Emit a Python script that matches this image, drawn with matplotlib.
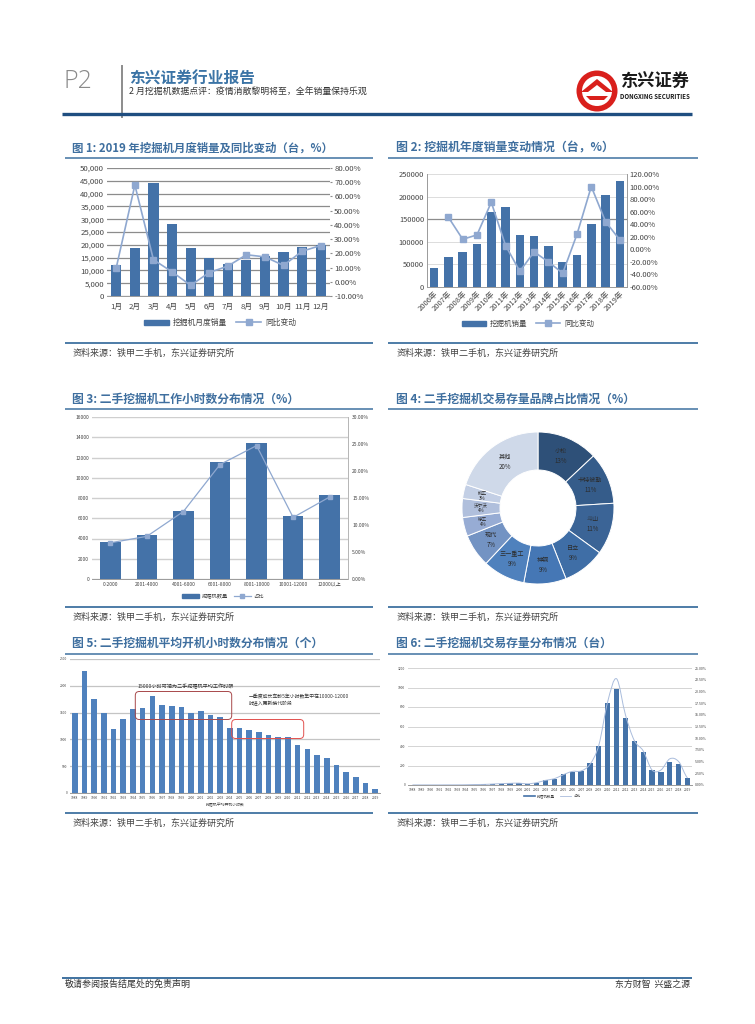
import matplotlib
matplotlib.use("Agg")
import matplotlib.pyplot as plt
from matplotlib.patches import FancyBboxPatch, PathPatch, Circle, Polygon
from matplotlib.path import Path
from matplotlib.lines import Line2D
from matplotlib.ticker import FuncFormatter, MultipleLocator
import numpy as np

plt.rcParams['font.family'] = ['Noto Sans CJK SC', 'DejaVu Sans']
plt.rcParams['axes.unicode_minus'] = False

W, H = 755, 1024

# ---------- data ----------
months = ['1月','2月','3月','4月','5月','6月','7月','8月','9月','10月','11月','12月']
monthly_sales = [12000,18700,44000,28000,18700,15000,12500,14000,15800,17000,19300,20000]
monthly_yoy = [10,68,15.5,7,-2.5,6.5,11,19,17.5,11.5,21.5,25.5]

years = ['2006年','2007年','2008年','2009年','2010年','2011年','2012年','2013年','2014年','2015年','2016年','2017年','2018年','2019年']
annual_sales = [43000,67000,77000,96000,166000,178000,115000,112000,90000,56000,70000,139000,203000,235000]
annual_yoy = [np.nan,51,16,23,75,6,-35,-4,-20,-38,24,100,44,15]

hour_bins = ['0-2000','2001-4000','4001-6000','6001-8000','8001-10000','10001-12000','12000以上']
hour_counts = [3660,4320,6760,11550,13400,6200,8300]
hour_share = [6.7,7.9,12.5,21.2,24.7,11.4,15.2]

brands = ['小松','卡特彼勒','斗山','日立','神钢','三一重工','现代','徐工','沃尔沃','柳工','其他']
brand_share = [13,11,11,9,9,9,7,4,4,3,20]
brand_colors = ['#2e5078','#355c8a','#3b6496','#3f6ea6','#4577b5','#4f81bd','#7393c3','#97acd4','#b0bfdc','#c3cfe5','#cfd9e9']

open_labels = [str(y) for y in range(1988, 2020)]
open_hours = [1494,2269,1756,1494,1188,1381,1563,1588,1813,1650,1619,1600,1494,1525,1456,1413,
              1213,1213,1181,1131,1081,1044,1044,894,813,713,644,525,400,300,181,81]

stock_labels = [str(y) for y in range(1988, 2020)]
stock_counts = [1,1,1,1,1,2,3,5,7,10,14,17,17,10,24,51,65,109,136,143,221,395,838,988,
                685,450,341,150,136,232,215,68]
stock_share = [0.02,0.02,0.02,0.02,0.03,0.03,0.05,0.1,0.12,0.2,0.3,0.35,0.4,0.25,0.5,1.0,
               1.35,2.2,2.9,3.0,4.4,8.5,17.8,22.7,15,9.5,7.3,3.2,3.2,5.6,5,1.5]

DARK = '#1f4e80'
BLUE = '#3f72a0'
BAR = '#4472a8'
LINE = '#8fa8d0'
GRID = '#8c8c8c'
TXT = '#444444'

fig = plt.figure(figsize=(W/100, H/100), dpi=100, facecolor='white')
bg = fig.add_axes([0, 0, 1, 1], zorder=0)
bg.set_xlim(0, W); bg.set_ylim(H, 0); bg.axis('off')


def box(l, t, r, b):
    return fig.add_axes([l/W, 1-b/H, (r-l)/W, (b-t)/H], zorder=2)


def hline(y, x0, x1, color=BLUE, lw=1.0):
    bg.plot([x0, x1], [y, y], color=color, lw=lw, solid_capstyle='butt')


# ---------- page furniture ----------
bg.text(64, 81, 'P2', fontsize=18, color='#8a8a8a', va='center', ha='left', family=['Open Sans', 'DejaVu Sans'], fontweight='light')
bg.plot([122, 122], [66, 117], color='#8c8c8c', lw=1.4)
bg.text(129, 78.5, '东兴证券行业报告', fontsize=11.3, fontweight='bold', color='#3b74a6', va='center', ha='left')
bg.text(129, 92, '2 月挖掘机数据点评：疫情消散黎明将至，全年销量保持乐观', fontsize=6.4, color='#333333', va='center', ha='left')
hline(114, 62, 692, color=DARK, lw=2.4)

# logo
bg.add_patch(Circle((597, 91), 20.5, facecolor='#d9201c', edgecolor='none'))
bg.add_patch(Circle((597, 91), 15, facecolor='white', edgecolor='none'))
bg.add_patch(Polygon([[581, 92], [597, 79], [613, 92], [606, 92], [597, 85], [588, 92]], closed=True, facecolor='#d9201c', edgecolor='none'))
bg.add_patch(Polygon([[586, 96], [608, 96], [604, 100], [590, 100]], closed=True, facecolor='#d9201c', edgecolor='none'))
bg.text(655, 82, '东兴证券', fontsize=12.4, fontweight='bold', color='#1a1a1a', va='center', ha='center')
bg.text(655, 96.5, 'DONGXING SECURITIES', fontsize=4.4, fontweight='bold', color='#1a1a1a', va='center', ha='center')

# footer
hline(977.5, 62, 692, color=BLUE, lw=1.4)
bg.text(65, 984, '敬请参阅报告结尾处的免责声明', fontsize=6.5, color='#333333', va='center', ha='left')
bg.text(690, 984, '东方财智  兴盛之源', fontsize=6.4, color='#333333', va='center', ha='right')

SOURCE = '资料来源：铁甲二手机，东兴证券研究所'
panels = [
    (72, 148, 158, 343, 353, 65, 373, 8.2, '图 1: 2019 年挖掘机月度销量及同比变动（台，%）'),
    (396, 148, 158, 343, 353, 388, 698, 8.6, '图 2: 挖掘机年度销量变动情况（台，%）'),
    (72, 399, 409, 607, 617, 65, 373, 8.5, '图 3: 二手挖掘机工作小时数分布情况（%）'),
    (396, 399, 409, 607, 617, 388, 698, 8.5, '图 4: 二手挖掘机交易存量品牌占比情况（%）'),
    (72, 643, 654, 813, 823, 65, 373, 8.5, '图 5: 二手挖掘机平均开机小时数分布情况（个）'),
    (396, 643, 654, 813, 823, 388, 698, 8.5, '图 6: 二手挖掘机交易存量分布情况（台）'),
]
for tx, ty, ul, bl, sy, x0, x1, fs, title in panels:
    bg.text(tx, ty, title, fontsize=fs, fontweight='bold', color='#3f6f9f', va='center', ha='left')
    hline(ul, x0, x1, color=BLUE, lw=1.1)
    hline(bl, x0, x1, color=BLUE, lw=1.3)
    bg.text(tx+1, sy, SOURCE, fontsize=6.5, color='#444444', va='center', ha='left')


def style(ax, fs, grid=GRID, glw=0.9, spine='#9a9a9a'):
    for s in ax.spines.values():
        s.set_visible(False)
    ax.spines['bottom'].set_visible(True)
    ax.spines['bottom'].set_color(spine)
    ax.spines['bottom'].set_linewidth(0.7)
    ax.tick_params(axis='both', length=0, labelsize=fs, labelcolor=TXT, pad=2)
    ax.grid(axis='y', color=grid, lw=glw)
    ax.set_axisbelow(True)


def legend(ax, handles, labels, cx, cy, fs, cols=2):
    return fig.legend(handles, labels, loc='center', bbox_to_anchor=(cx/W, 1-cy/H), ncol=cols, frameon=False,
                      fontsize=fs, labelcolor=TXT, handlelength=3.2, columnspacing=1.2, handletextpad=0.5, borderpad=0)


# ---------- figure 1 ----------
ax = box(107, 168, 330, 296)
x = np.arange(len(months))
ax.bar(x, monthly_sales, width=0.55, color=BAR, zorder=2)
ax.set_xlim(-0.5, 11.5); ax.set_ylim(0, 50000)
ax.yaxis.set_major_locator(MultipleLocator(5000))
ax.yaxis.set_major_formatter(FuncFormatter(lambda v, p: f'{int(v):,}'))
ax.set_xticks(x); ax.set_xticklabels(months)
style(ax, 5.6)
ax.tick_params(axis='x', pad=5)
ax2 = ax.twinx()
ax2.plot(x, monthly_yoy, color=LINE, lw=1.2, marker='s', ms=4, zorder=3)
ax2.set_ylim(-10, 80)
ax2.yaxis.set_major_locator(MultipleLocator(10))
ax2.yaxis.set_major_formatter(FuncFormatter(lambda v, p: f'{v:.2f}%'))
for s in ax2.spines.values():
    s.set_visible(False)
ax2.tick_params(axis='y', length=1.5, color='#8c8c8c', labelsize=5.6, labelcolor=TXT, pad=1.5)
legend(ax, [plt.Rectangle((0, 0), 1, 1, color=BAR), Line2D([], [], color=LINE, lw=1.2, marker='s', ms=4)],
       ['挖掘机月度销量', '同比变动'], 220, 323, 5.6)

# ---------- figure 2 ----------
ax = box(427, 174, 627, 287)
x = np.arange(len(years))
ax.bar(x, annual_sales, width=0.6, color=BAR, zorder=2)
ax.set_xlim(-0.5, 13.5); ax.set_ylim(0, 250000)
ax.yaxis.set_major_locator(MultipleLocator(50000))
ax.set_xticks(x); ax.set_xticklabels(years, rotation=45, ha='right', rotation_mode='anchor')
style(ax, 5.4, grid='#dcdcdc', glw=0.7)
ax.axhline(150000, color=GRID, lw=0.9, zorder=1)
ax.spines['left'].set_visible(True); ax.spines['left'].set_color('#9a9a9a'); ax.spines['left'].set_linewidth(0.7)
ax2 = ax.twinx()
ax2.plot(x, annual_yoy, color=LINE, lw=1.2, marker='s', ms=4, zorder=3)
ax2.set_ylim(-60, 120)
ax2.yaxis.set_major_locator(MultipleLocator(20))
ax2.yaxis.set_major_formatter(FuncFormatter(lambda v, p: f'{v:.2f}%'))
for k, s in ax2.spines.items():
    s.set_visible(k == 'right'); s.set_color('#9a9a9a'); s.set_linewidth(0.7)
ax2.tick_params(axis='y', length=0, labelsize=5.5, labelcolor=TXT, pad=2)
legend(ax, [plt.Rectangle((0, 0), 1, 1, color=BAR), Line2D([], [], color=LINE, lw=1.2, marker='s', ms=4)],
       ['挖掘机销量', '同比变动'], 528, 324, 5.4)

# ---------- figure 3 ----------
ax = box(92, 417, 348, 579)
x = np.arange(len(hour_bins))
ax.bar(x, hour_counts, width=0.56, color=BAR, zorder=2)
ax.set_xlim(-0.5, 6.5); ax.set_ylim(0, 16000)
ax.yaxis.set_major_locator(MultipleLocator(2000))
ax.set_xticks(x); ax.set_xticklabels(hour_bins)
style(ax, 3.6, grid='#cfcfcf', glw=1.0)
ax2 = ax.twinx()
ax2.plot(x, hour_share, color=LINE, lw=0.9, marker='s', ms=2.6, zorder=3)
ax2.set_ylim(0, 30)
ax2.yaxis.set_major_locator(MultipleLocator(5))
ax2.yaxis.set_major_formatter(FuncFormatter(lambda v, p: f'{v:.2f}%'))
for k, s in ax2.spines.items():
    s.set_visible(k == 'right'); s.set_color('#b5b5b5'); s.set_linewidth(0.7)
ax2.tick_params(axis='y', length=0, labelsize=3.6, labelcolor=TXT, pad=3)
legend(ax, [plt.Rectangle((0, 0), 1, 1, color=BAR), Line2D([], [], color=LINE, lw=0.9, marker='s', ms=2.4)],
       ['挖掘机数量', '占比'], 223, 596, 3.8)

# ---------- figure 4 ----------
ax = box(538-76, 508-76, 538+76, 508+76)
_, pie_texts = ax.pie(brand_share, colors=brand_colors, startangle=90, counterclock=False, radius=1.0,
                      wedgeprops=dict(width=0.5, edgecolor='white', linewidth=0.7),
                      labels=[f'{b}\n{v}%' for b, v in zip(brands, brand_share)], labeldistance=0.75,
                      textprops=dict(fontsize=4.4, color='#2c2c2c', ha='center', va='center', linespacing=1.3))
for t, v in zip(pie_texts, brand_share):
    if v <= 4:
        t.set_fontsize(3.3)
        t.set_linespacing(1.0)
ax.set_xlim(-1, 1); ax.set_ylim(-1, 1)

# ---------- figure 5 ----------
ax = box(70, 659, 380, 793)
x = np.arange(len(open_hours))
ax.bar(x, open_hours, width=0.58, color='#4f81bd', zorder=2)
ax.set_xlim(-0.5, 31.5); ax.set_ylim(0, 2500)
ax.yaxis.set_major_locator(MultipleLocator(500))
ax.set_xticks(x); ax.set_xticklabels(open_labels)
style(ax, 2.4, grid='#c4c4c4', glw=0.9)
bg.text(225, 805, '挖掘机平均开机小时数', fontsize=2.8, color=TXT, ha='center', va='center')

top = fig.add_axes([0, 0, 1, 1], zorder=4)
top.set_xlim(0, W); top.set_ylim(H, 0); top.axis('off'); top.patch.set_alpha(0)
for (l, t, r, b, c) in [(135.3, 691.5, 231.7, 719.5, '#a8484a'), (231.7, 719.5, 303.7, 738.5, '#e2504e')]:
    top.add_patch(FancyBboxPatch((l+4, t+4), r-l-8, b-t-8, boxstyle='round,pad=4', facecolor='none', edgecolor=c, lw=0.7))
top.text(138, 687, '15000小时可视为二手挖掘机平均工作时限', fontsize=3.7, color='#333333', va='center', ha='left')
top.text(249, 697, '一季度成长车龄5年小时数集中在10000-12000', fontsize=3.5, color='#333333', va='center', ha='left')
top.text(249, 704, '时进入更新换代阶段', fontsize=3.5, color='#333333', va='center', ha='left')

# ---------- figure 6 ----------
ax = box(408, 668, 692, 785)
x = np.arange(len(stock_counts))
ax.bar(x, stock_counts, width=0.6, color=BAR, zorder=2)
ax.set_xlim(-0.5, 31.5); ax.set_ylim(0, 1200)
ax.yaxis.set_major_locator(MultipleLocator(200))
ax.set_xticks(x); ax.set_xticklabels(stock_labels)
style(ax, 2.4, grid='#d4d4d4', glw=0.7)
ax2 = ax.twinx()
ys = np.array(stock_share, dtype=float)
xs = x.astype(float)
verts = [(xs[0], ys[0])]
codes = [Path.MOVETO]
for i in range(len(xs)-1):
    p0 = ys[max(i-1, 0)]; p1 = ys[i]; p2 = ys[i+1]; p3 = ys[min(i+2, len(ys)-1)]
    verts += [(xs[i]+1/3, p1+(p2-p0)/6), (xs[i+1]-1/3, p2-(p3-p1)/6), (xs[i+1], p2)]
    codes += [Path.CURVE4]*3
ax2.add_patch(PathPatch(Path(verts, codes), facecolor='none', edgecolor='#a9bcdc', lw=0.7, zorder=3))
ax2.set_ylim(0, 25)
ax2.yaxis.set_major_locator(MultipleLocator(2.5))
ax2.yaxis.set_major_formatter(FuncFormatter(lambda v, p: f'{v:.2f}%'))
for s in ax2.spines.values():
    s.set_visible(False)
ax2.tick_params(axis='y', length=0, labelsize=2.6, labelcolor=TXT, pad=2)
legend(ax, [Line2D([], [], color=BAR, lw=1.2), Line2D([], [], color='#a9bcdc', lw=0.6)],
       ['挖掘机数量', '占比'], 552, 796, 2.6)

fig.savefig('out.png', dpi=100, facecolor='white')
